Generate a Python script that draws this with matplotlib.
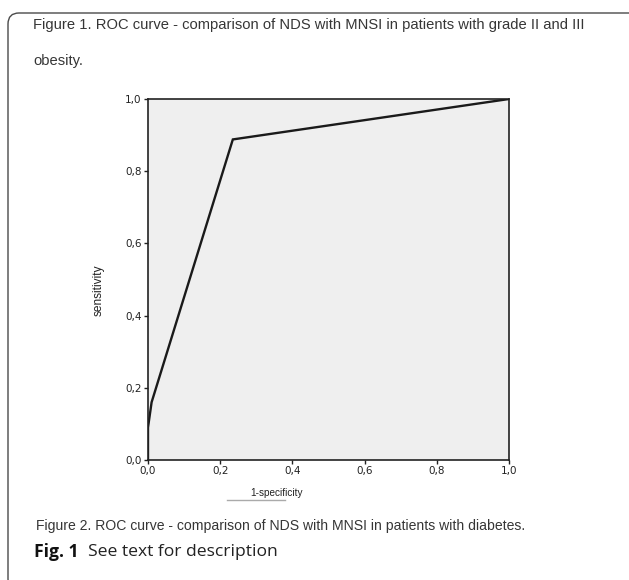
import matplotlib.pyplot as plt
from matplotlib.patches import FancyBboxPatch
from matplotlib.lines import Line2D
from matplotlib.transforms import IdentityTransform

# ROC points
fpr = [0.0, 0.0, 0.01, 0.235, 1.0]
tpr = [0.0, 0.09, 0.16, 0.888, 1.0]
ticks = [0.0, 0.2, 0.4, 0.6, 0.8, 1.0]
tick_labels = ['0,0', '0,2', '0,4', '0,6', '0,8', '1,0']

W, H = 629, 580
fig = plt.figure(figsize=(W / 100, H / 100), dpi=100)
fig.patch.set_facecolor('white')

def px(x, y):
    # pixel position (from top-left) -> figure fraction
    return x / W, 1 - y / H

# rounded frame, open on right/bottom (clipped by the image edge)
frame = FancyBboxPatch((8, -10), 640, H - 13 + 10,
                       boxstyle="round,pad=0,rounding_size=11",
                       transform=IdentityTransform(),
                       facecolor='none', edgecolor='#4a4a4a', lw=1.0)
fig.patches.append(frame)

ax = fig.add_axes([148 / W, 1 - 460 / H, 361 / W, 361 / H])
ax.set_facecolor('#efefef')
ax.plot(fpr, tpr, color='#1a1a1a', lw=1.7, solid_joinstyle='miter')
ax.set_xlim(0, 1)
ax.set_ylim(0, 1)
ax.set_xticks(ticks)
ax.set_yticks(ticks)
ax.set_xticklabels(tick_labels)
ax.set_yticklabels(tick_labels)
ax.tick_params(direction='out', length=3, width=1, labelsize=7.5,
               colors='#222222', pad=1.5)
for sp in ax.spines.values():
    sp.set_linewidth(1.2)
    sp.set_color('#222222')

sans = 'Liberation Sans'
txt = '#363636'
fig.text(*px(33, 25), 'Figure 1. ROC curve - comparison of NDS with MNSI in patients with grade II and III',
         fontsize=10.6, family=sans, color=txt, va='center', ha='left')
fig.text(*px(33, 61), 'obesity.', fontsize=10.6, family=sans, color=txt, va='center', ha='left')

fig.text(*px(277, 493), '1-specificity', fontsize=7.2, family=sans, color='#222222',
         va='center', ha='center')
fig.add_artist(Line2D([227 / W, 285 / W], [1 - 500 / H, 1 - 500 / H],
                      color='#aaaaaa', lw=1.0))
fig.text(*px(99, 290), 'sensitivity', fontsize=8.6, family=sans, color='#222222',
         va='center', ha='center', rotation=90)

fig.text(*px(36, 526), 'Figure 2. ROC curve - comparison of NDS with MNSI in patients with diabetes.',
         fontsize=10.1, family=sans, color=txt, va='center', ha='left')
fig.text(*px(34, 552), 'Fig. 1', fontsize=12.6, family='Open Sans', fontweight='bold',
         color='#111111', va='center', ha='left')
fig.text(*px(88, 552), 'See text for description', fontsize=12.6, family='Open Sans',
         color='#222222', va='center', ha='left')

fig.savefig('out.png', dpi=100)
